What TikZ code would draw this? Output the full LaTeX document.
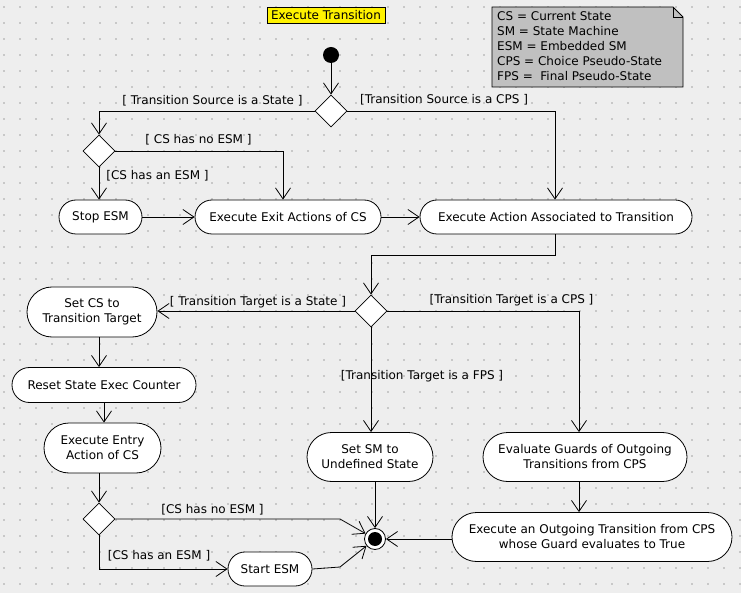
\documentclass[tikz,border=0pt]{standalone}
\usepackage{fontspec}
\setmainfont{DejaVu Sans}
\usetikzlibrary{arrows.meta,shapes.geometric,shapes.misc,calc}
\definecolor{bgc}{HTML}{EEEEEE}
\definecolor{dotc}{HTML}{C8C8C8}
\definecolor{notec}{HTML}{C0C0C0}
\begin{document}
\begin{tikzpicture}[x=1pt,y=-1pt,
  every node/.style={font=\fontsize{12}{15}\selectfont},
  act/.style={draw, fill=white, rounded rectangle, inner sep=0pt, align=center, line width=0.8pt},
  dec/.style={draw, fill=white, diamond, minimum width=32pt, minimum height=32pt, inner sep=0pt, line width=0.8pt},
  lbl/.style={inner sep=0pt},
  flow/.style={line width=0.8pt, -{Straight Barb[length=11pt,width=15pt,line width=0.8pt]}},
  line/.style={line width=0.8pt}]
\useasboundingbox (0,0) rectangle (741,593);
\fill[bgc] (0,0) rectangle (741,593);
\foreach \i in {0,...,46} \foreach \j in {0,...,36}
  \fill[dotc] ({4+16*\i-1},{7.5+16*\j-1}) rectangle ++(2,2);

% title
\node[draw, fill=yellow, inner sep=1.5pt, minimum width=118pt, minimum height=16pt] (title) at (326,15) {Execute Transition};

% note
\draw[line, fill=notec] (492,7) -- (673,7) -- (683,17) -- (683,87) -- (492,87) -- cycle;
\draw[line] (673,7) -- (673,17) -- (683,17);
\node[lbl, anchor=north west, align=left] (note) at (497,11.5) {CS = Current State\\SM = State Machine\\ESM = Embedded SM\\CPS = Choice Pseudo-State\\FPS = \ Final Pseudo-State};

% initial / final
\node[circle, fill=black, minimum size=16pt, inner sep=0pt] (init) at (331,55) {};
\node[circle, draw, fill=white, line width=0.8pt, minimum size=21pt, inner sep=0pt] (final) at (375,539) {};
\fill (final.center) circle (7pt);

% decisions
\node[dec] (d1) at (331,111) {};
\node[dec] (d2) at (99,151) {};
\node[dec] (d3) at (371,311) {};
\node[dec] (d4) at (99,519) {};

% actions
\node[act, minimum width=83pt, minimum height=34pt] (stop) at (100.5,217) {Stop ESM};
\node[act, minimum width=186pt, minimum height=34pt] (exit) at (288,217) {Execute Exit Actions of CS};
\node[act, minimum width=272pt, minimum height=34pt] (action) at (556,217) {Execute Action Associated to Transition};
\node[act, minimum width=130pt, minimum height=50pt] (setcs) at (92,312) {Set CS to\\Transition Target};
\node[act, minimum width=184pt, minimum height=35pt] (reset) at (104,385) {Reset State Exec Counter};
\node[act, minimum width=117pt, minimum height=50pt] (entry) at (102.5,448) {Execute Entry\\Action of CS};
\node[act, minimum width=126pt, minimum height=49pt] (setsm) at (370,457) {Set SM to\\Undefined State};
\node[act, minimum width=204pt, minimum height=49pt] (evalg) at (585,457) {Evaluate Guards of Outgoing\\Transitions from CPS};
\node[act, minimum width=280pt, minimum height=49pt] (execout) at (592,537) {Execute an Outgoing Transition from CPS\\whose Guard evaluates to True};
\node[act, minimum width=84pt, minimum height=34pt] (startesm) at (270,569) {Start ESM};

% labels
\node[lbl] (l1) at (212.5,101) {[ Transition Source is a State ]};
\node[lbl] (l2) at (444,100) {[Transition Source is a CPS ]};
\node[lbl] (l3) at (198.5,140) {[ CS has no ESM ]};
\node[lbl] (l4) at (157.5,176) {[CS has an ESM ]};
\node[lbl] (l5) at (258,302) {[ Transition Target is a State ]};
\node[lbl] (l6) at (511.5,300) {[Transition Target is a CPS ]};
\node[lbl] (l7) at (422,376) {[Transition Target is a FPS ]};
\node[lbl] (l8) at (212.5,510) {[CS has no ESM ]};
\node[lbl] (l9) at (159,556) {[CS has an ESM ]};

% connectors
\coordinate (c1) at (340,519);
\coordinate (c2) at (340,567);
\draw[flow] (init) -- (d1.north);
\draw[flow] (d1.west) -| (d2.north);
\draw[flow] (d1.east) -| ([xshift=-1pt]action.north);
\draw[flow] (d2.east) -| ([xshift=-5pt]exit.north);
\draw[flow] (d2.south) -- (d2.south |- stop.north);
\draw[flow] (stop.east) -- (exit.west);
\draw[flow] (exit.east) -- (action.west);
\draw[flow] ([xshift=-1pt]action.south) -- ++(0,21) -| (d3.north);
\draw[flow] (d3.west) -- (d3.west -| setcs.east);
\draw[flow] (d3.east) -| ([xshift=-6pt]evalg.north);
\draw[flow] (d3.south) -- (d3.south |- setsm.north);
\draw[flow] ([xshift=7pt]setcs.south) -- ([xshift=7pt]setcs.south |- reset.north);
\draw[flow] (reset.south) -- (reset.south |- entry.north);
\draw[flow] ([xshift=-3.5pt]entry.south) -- (d4.north);
\draw[flow] (d4.east) -- (c1) -- (final);
\draw[flow] (d4.south) |- (startesm.west);
\draw[flow] (startesm.east) -- (c2) -- (final);
\draw[flow] (final.north |- setsm.south) -- (final.north);
\draw[flow] (final.east -| execout.west) -- (final.east);
\draw[flow] ([xshift=-6pt]evalg.south) -- ([xshift=-6pt]evalg.south |- execout.north);
\end{tikzpicture}
\end{document}
